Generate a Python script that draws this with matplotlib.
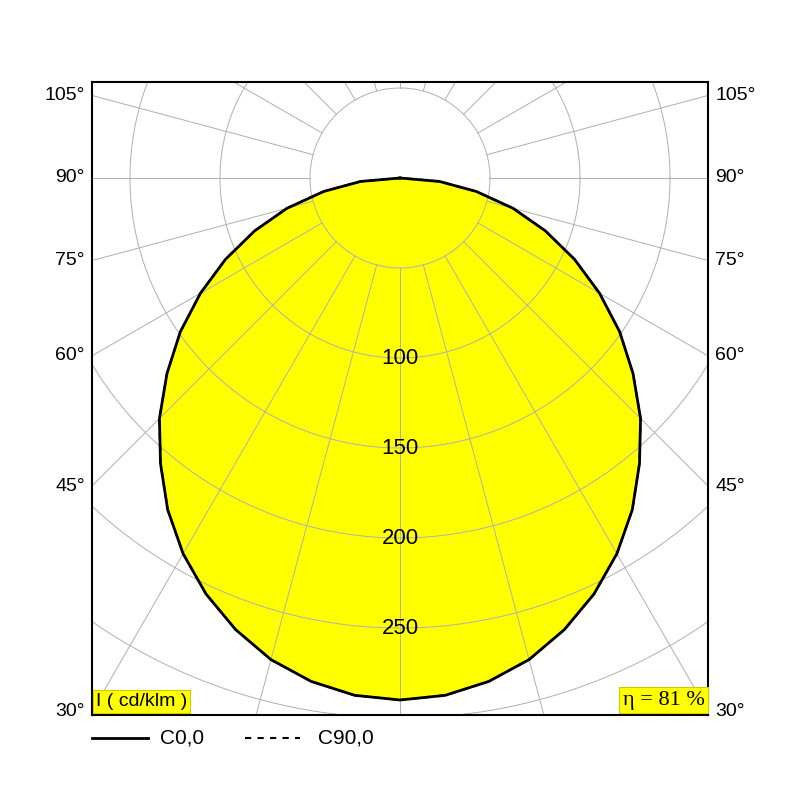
import numpy as np
import matplotlib
matplotlib.use("Agg")
import matplotlib.pyplot as plt

plt.rcParams['font.family'] = ['Liberation Sans', 'DejaVu Sans']

angles_deg = [0, 5, 10, 15, 20, 25, 30, 35, 40, 45, 50, 55, 60, 65, 70, 75, 80, 85, 90]
c0_values = [290, 288.5, 284, 277, 267, 255, 241, 225, 207, 189, 169, 149, 128, 107, 86, 65, 43, 22, 0]
c90_values = [290, 288.5, 284, 277, 267, 255, 241, 225, 207, 189, 169, 149, 128, 107, 86, 65, 43, 22, 0]
ring_values = [50, 100, 150, 200, 250, 300, 350]
ring_labels = [100, 150, 200, 250]
angle_ticks = [30, 45, 60, 75, 90, 105]
efficiency = "η = 81 %"
unit = "I ( cd/klm )"

fig = plt.figure(figsize=(8, 8), dpi=100)
ax = fig.add_axes([92/800, 85/800, 616/800, 633/800])
xl = 308/1.8
ax.set_xlim(-xl, xl)
ax.set_ylim(-537/1.8, 96/1.8)
ax.set_xticks([]); ax.set_yticks([])
for s in ax.spines.values():
    s.set_linewidth(1.5)
    s.set_zorder(6)

gc = "#b0b0b0"
t = np.linspace(0, 2*np.pi, 400)
for r in ring_values:
    ax.plot(r*np.cos(t), r*np.sin(t), color=gc, lw=0.7, zorder=3)
for a in range(0, 360, 15):
    ar = np.deg2rad(a)
    ax.plot([50*np.sin(ar), 400*np.sin(ar)], [-50*np.cos(ar), -400*np.cos(ar)], color=gc, lw=0.7, zorder=3)

def curve(vals):
    th = np.deg2rad(np.array(angles_deg, float))
    v = np.array(vals, float)
    th_full = np.concatenate([-th[::-1], th[1:]])
    v_full = np.concatenate([v[::-1], v[1:]])
    return v_full*np.sin(th_full), -v_full*np.cos(th_full)

xs, ys = curve(c0_values)
ax.fill(xs, ys, color="#ffff00", zorder=2)
ax.plot(xs, ys, color="black", lw=2, zorder=4)
x9, y9 = curve(c90_values)
ax.plot(x9, y9, color="black", lw=1.5, ls=(0, (3, 3)), zorder=4)

for r in ring_labels:
    ax.text(0, -r, str(r), ha="center", va="center", fontsize=16, zorder=5)

for a in angle_ticks:
    y = -xl/np.tan(np.deg2rad(a))
    ax.text(-xl-4, y, f"{a}°", ha="right", va="center", fontsize=14, clip_on=False)
    ax.text(xl+4, y, f"{a}°", ha="left", va="center", fontsize=14, clip_on=False)

ax.text(-xl+2, -537/1.8+3, unit, ha="left", va="bottom", fontsize=14, zorder=7,
        bbox=dict(boxstyle="square,pad=0.15", fc="#ffff00", ec="#cccc00", lw=0.8))
ax.text(xl-2, -537/1.8+3, efficiency, ha="right", va="bottom", fontsize=16,
        family=["Liberation Serif", "DejaVu Serif"],
        zorder=7, bbox=dict(boxstyle="square,pad=0.15", fc="#ffff00", ec="#cccc00", lw=0.8))

fig.lines.append(plt.Line2D([92/800, 148/800], [62/800, 62/800], color="black", lw=2, transform=fig.transFigure))
fig.text(160/800, 62/800, "C0,0", va="center", fontsize=15)
fig.lines.append(plt.Line2D([245/800, 300/800], [62/800, 62/800], color="black", lw=1.5, ls=(0, (3, 3)), transform=fig.transFigure))
fig.text(318/800, 62/800, "C90,0", va="center", fontsize=15)

fig.savefig("out.png", dpi=100, facecolor="white")
